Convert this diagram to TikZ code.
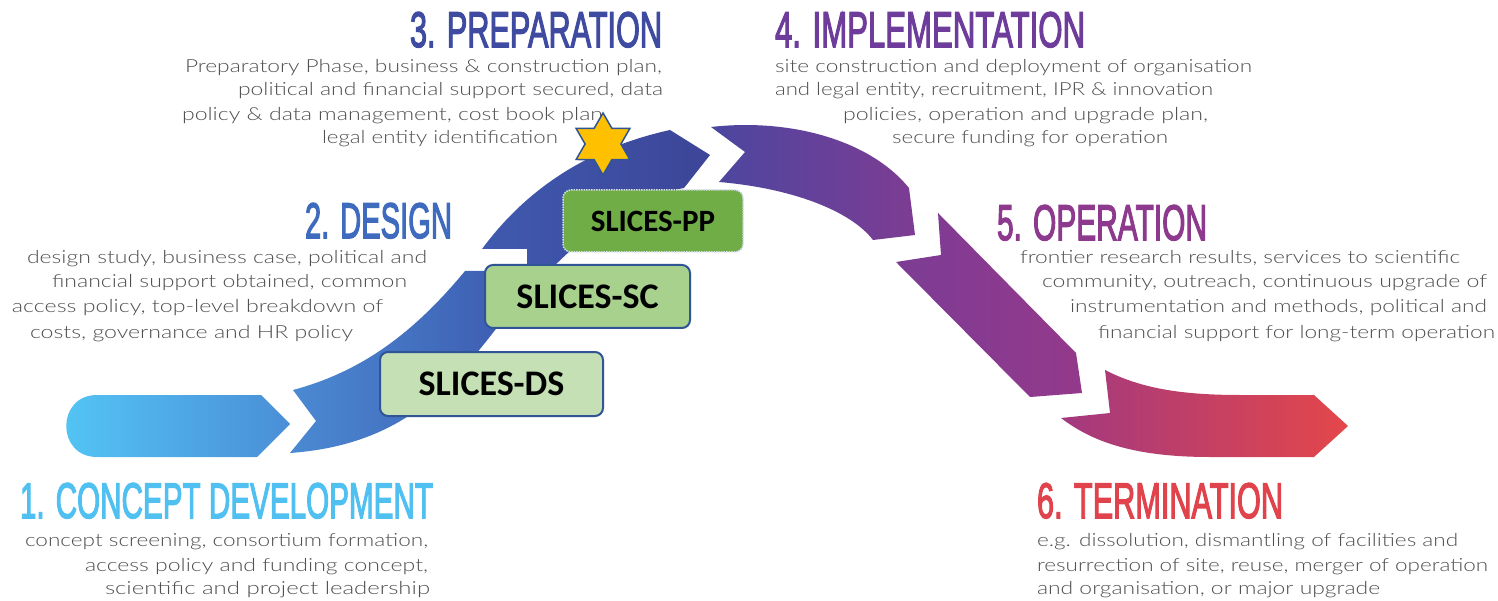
\documentclass[tikz,border=0pt]{standalone}
\usepackage{fontspec}
\usepackage{graphicx}
\usetikzlibrary{shapes.geometric}
\newfontfamily\bodyfont{Lato Light}
\newfontfamily\titlefont{Liberation Sans}[FakeBold=3]
\newfontfamily\boxfont{Carlito}
\definecolor{bodygray}{HTML}{505050}
\definecolor{tA}{HTML}{4FC0F0}
\definecolor{tB}{HTML}{3F6BBE}
\definecolor{tC}{HTML}{3F4BA0}
\definecolor{tD}{HTML}{6E3D9B}
\definecolor{tE}{HTML}{8D3A8E}
\definecolor{tF}{HTML}{E0434B}
\definecolor{sAl}{HTML}{53C6F5}
\definecolor{sAr}{HTML}{4A8ED7}
\definecolor{sBl}{HTML}{4B8AD3}
\definecolor{sBr}{HTML}{3E5DB2}
\definecolor{sCl}{HTML}{3F5AAF}
\definecolor{sCr}{HTML}{3D4597}
\definecolor{sDl}{HTML}{4B46A0}
\definecolor{sDr}{HTML}{7E3C93}
\definecolor{sEl}{HTML}{7C3C94}
\definecolor{sEr}{HTML}{94398B}
\definecolor{sFl}{HTML}{A2397F}
\definecolor{sFr}{HTML}{E4474A}
\definecolor{ppfill}{HTML}{70AD47}
\definecolor{scfill}{HTML}{A9D18E}
\definecolor{dsfill}{HTML}{C5E0B4}
\definecolor{boxblue}{HTML}{2F5597}
\definecolor{starfill}{HTML}{FFC000}
\tikzset{
  body/.style={inner sep=0pt, outer sep=0pt, anchor=base west, text=bodygray,
    font=\bodyfont\fontsize{18}{18}\selectfont},
  ttl/.style={inner sep=0pt, outer sep=0pt, anchor=base west, font=\titlefont\fontsize{30}{30}\selectfont},
  slbox/.style={rounded corners=8pt, inner sep=0pt, text=black, font=\boxfont\bfseries},
}
\begin{document}
\begin{tikzpicture}[x=1pt,y=-1pt]
\useasboundingbox (0,0) rectangle (1498,601);
\fill[white] (0,0) rectangle (1498,601);
% ribbon segments
\shade[left color=sAl, right color=sAr] (97,457) .. controls (56,457) and (56,395) .. (97,395) -- (261,395) -- (290,424) -- (257,457) -- cycle;
\shade[left color=sBl, right color=sBr] (290,453) -- (316,421) -- (293,390) .. controls (360,372) and (412,335) .. (465,271) -- (505,271) -- (505,317) .. controls (450,390) and (400,445) .. (290,453) -- cycle;
\shade[left color=sCl, right color=sCr] (482,249) -- (527,249) -- (527,294) .. controls (572,246) and (620,200) .. (684,188) -- (710,155) -- (670,130) .. controls (580,150) and (522,195) .. (482,249) -- cycle;
\shade[left color=sDl, right color=sDr] (711,127) .. controls (790,118) and (870,140) .. (909,188) -- (915,235) -- (873,240) .. controls (850,210) and (790,188) .. (719,182) -- (745,152) -- cycle;
\shade[left color=sEl, right color=sEr] (938,213) -- (1076,353) -- (1082,393) -- (1030,397) -- (896,262) -- (941,255) -- cycle;
\shade[left color=sFl, right color=sFr] (1105,370) .. controls (1140,388) and (1180,395) .. (1240,395) -- (1314,395) -- (1348,426) -- (1314,457) -- (1210,457) .. controls (1130,457) and (1090,440) .. (1061,418) -- (1110,413) -- cycle;
% titles
\node[ttl, text=tA] (t1) at (20,518) {\resizebox{413pt}{35pt}{1. CONCEPT DEVELOPMENT}};
\node[ttl, text=tB] (t2) at (305,238) {\resizebox{147pt}{35pt}{2. DESIGN}};
\node[ttl, text=tC] (t3) at (410,47) {\resizebox{252pt}{35pt}{3. PREPARATION}};
\node[ttl, text=tD] (t4) at (775,47) {\resizebox{310pt}{35pt}{4. IMPLEMENTATION}};
\node[ttl, text=tE] (t5) at (997,240) {\resizebox{210pt}{35pt}{5. OPERATION}};
\node[ttl, text=tF] (t6) at (1037,518) {\resizebox{246pt}{35pt}{6. TERMINATION}};
% body texts
\node[body] (b3a) at (185,73) {\resizebox{477pt}{\height}{Preparatory Phase, business \& construction plan,}};
\node[body] (b3b) at (238,96) {\resizebox{425pt}{\height}{political and financial support secured, data}};
\node[body] (b3c) at (182,121) {\resizebox{421pt}{\height}{policy \& data management, cost book plan}};
\node[body] (b3d) at (322,144) {\resizebox{236pt}{\height}{legal entity identification}};
\node[body] (b4a) at (775,73) {\resizebox{477pt}{\height}{site construction and deployment of organisation}};
\node[body] (b4b) at (775,96) {\resizebox{438pt}{\height}{and legal entity, recruitment, IPR \& innovation}};
\node[body] (b4c) at (843,121) {\resizebox{365pt}{\height}{policies, operation and upgrade plan,}};
\node[body] (b4d) at (892,144) {\resizebox{276pt}{\height}{secure funding for operation}};
\node[body] (b2a) at (27,264) {\resizebox{400pt}{\height}{design study, business case, political and}};
\node[body] (b2b) at (52,288) {\resizebox{355pt}{\height}{financial support obtained, common}};
\node[body] (b2c) at (12,313) {\resizebox{371pt}{\height}{access policy, top-level breakdown of}};
\node[body] (b2d) at (30,338) {\resizebox{323pt}{\height}{costs, governance and HR policy}};
\node[body] (b5a) at (1020,264) {\resizebox{440pt}{\height}{frontier research results, services to scientific}};
\node[body] (b5b) at (1042,288) {\resizebox{445pt}{\height}{community, outreach, continuous upgrade of}};
\node[body] (b5c) at (1070,313) {\resizebox{417pt}{\height}{instrumentation and methods, political and}};
\node[body] (b5d) at (1098,338) {\resizebox{397pt}{\height}{financial support for long-term operation}};
\node[body] (b1a) at (25,546) {\resizebox{403pt}{\height}{concept screening, consortium formation,}};
\node[body] (b1b) at (85,571) {\resizebox{343pt}{\height}{access policy and funding concept,}};
\node[body] (b1c) at (105,594) {\resizebox{325pt}{\height}{scientific and project leadership}};
\node[body] (b6a) at (1037,546) {\resizebox{421pt}{\height}{e.g. dissolution, dismantling of facilities and}};
\node[body] (b6b) at (1037,571) {\resizebox{451pt}{\height}{resurrection of site, reuse, merger of operation}};
\node[body] (b6c) at (1037,594) {\resizebox{343pt}{\height}{and organisation, or major upgrade}};
% boxes
\node[slbox, fill=dsfill, draw=boxblue, line width=2pt, minimum width=223pt, minimum height=64pt, font=\boxfont\bfseries\fontsize{36}{36}\selectfont] (ds) at (491.5,384) {SLICES-DS};
\node[slbox, fill=scfill, draw=boxblue, line width=2pt, minimum width=205pt, minimum height=63pt, font=\boxfont\bfseries\fontsize{36}{36}\selectfont] (sc) at (587.5,296.5) {SLICES-SC};
\node[slbox, fill=ppfill, draw=white!80!boxblue, densely dotted, line width=1.5pt, minimum width=180pt, minimum height=62pt, font=\boxfont\bfseries\fontsize{31}{31}\selectfont] (pp) at (653,221) {SLICES-PP};
% star
\node[star, star points=6, star point ratio=1.73, minimum size=62pt, inner sep=0pt, fill=starfill, draw=boxblue, line width=1.5pt] (star) at (603,144) {};
\end{tikzpicture}
\end{document}
